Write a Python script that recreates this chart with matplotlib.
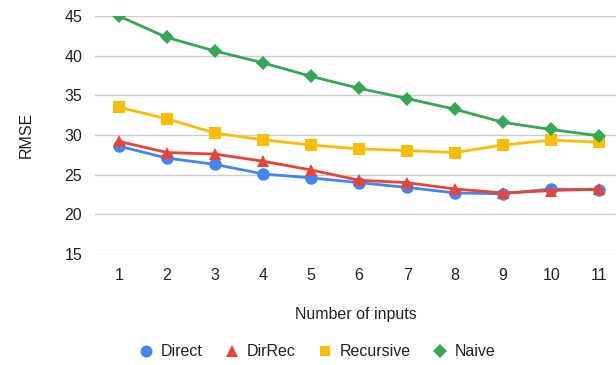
import matplotlib.pyplot as plt

plt.rcParams['font.family'] = ['Liberation Sans', 'DejaVu Sans']

inputs = [1, 2, 3, 4, 5, 6, 7, 8, 9, 10, 11]
direct = [28.6, 27.1, 26.3, 25.1, 24.6, 24.0, 23.4, 22.7, 22.6, 23.2, 23.1]
dirrec = [29.2, 27.8, 27.6, 26.7, 25.6, 24.3, 24.0, 23.2, 22.7, 23.0, 23.2]
recursive = [33.5, 32.05, 30.25, 29.4, 28.75, 28.25, 28.05, 27.8, 28.75, 29.35, 29.1]
naive = [45.0, 42.3, 40.6, 39.1, 37.4, 35.9, 34.6, 33.25, 31.6, 30.7, 29.9]

series = [
    ('Direct', direct, '#4285F4', 'o', 9),
    ('DirRec', dirrec, '#EA4335', '^', 9),
    ('Recursive', recursive, '#FBBC04', 's', 8),
    ('Naive', naive, '#34A853', 'D', 7),
]

fig = plt.figure(figsize=(6.16, 3.65), dpi=100)
ax = fig.add_axes([0.154, 0.304, 0.846, 0.652])

for name, vals, col, mk, ms in series:
    ax.plot(inputs, vals, color=col, lw=2, marker=mk, ms=ms,
            markeredgewidth=0, label=name, zorder=3)

ax.set_xlim(0.5, 11.35)
ax.set_ylim(15, 45)
ax.set_yticks(range(15, 46, 5))
ax.set_xticks(inputs)
ax.grid(axis='y', color='#cccccc', lw=1)
ax.set_axisbelow(True)
for s in ax.spines.values():
    s.set_visible(False)
ax.tick_params(length=0, labelsize=11.5, colors='#222222', pad=9)
ax.tick_params(axis='x', pad=10)

ax.set_xlabel('Number of inputs', fontsize=11.5, color='#222222', labelpad=17)
ax.set_ylabel('RMSE', fontsize=11.5, color='#222222', labelpad=22)

handles = [plt.Line2D([], [], ls='none', marker=mk, color=col, ms=ms * 0.95,
                      markeredgewidth=0) for _, _, col, mk, ms in series]
fig.legend(handles, [s[0] for s in series], loc='center',
           bbox_to_anchor=(0.513, 0.036), ncol=4, frameon=False,
           fontsize=11.5, handletextpad=0.3, columnspacing=1.25,
           handlelength=1.2, labelcolor='#222222')

fig.savefig('out.png', dpi=100)
